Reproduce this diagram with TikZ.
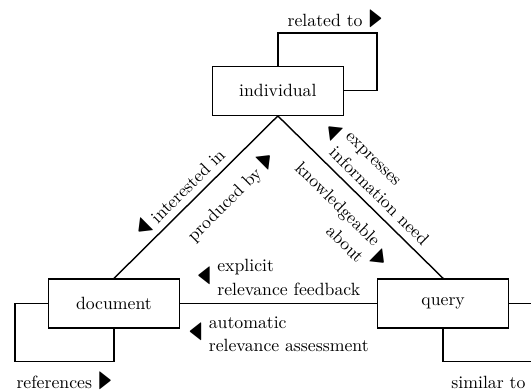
\documentclass[tikz,border=0pt]{standalone}
\usepackage[]{amssymb}
\usetikzlibrary{positioning}
\newcommand{\lefttri}{\scalebox{1.05}[1.75]{$\blacktriangleleft$}}
\newcommand{\righttri}{\scalebox{1.05}[1.75]{$\blacktriangleright$}}
\renewcommand{\arraystretch}{1.1}
\tikzset{entity/.style = {draw, thick, minimum width = 2.6cm, minimum height = 0.97cm}}
\tikzset{rel/.style = {thick}}
\begin{document}
\begin{tikzpicture}
        \useasboundingbox (-2.26,-1.72) rectangle (8.27,6.02);
        \clip (-2.26,-1.72) rectangle (8.27,6.02);
        \node [entity] (document) at (0,0) {document};
        \node [entity, right=3.9cm of document] (query) {query};
        \node [entity] (individual) at (3.25,4.22) {individual};
        \coordinate [above=0.65cm of individual.north] (rel1);
        \coordinate [right=0.65cm of individual.east] (rel2);
        \coordinate [left=0.65cm of document.west] (ref1);
        \coordinate [below=0.65cm of document.south] (ref2);
        \coordinate [below=0.65cm of query.south] (sim1);
        \coordinate [right=0.65cm of query.east] (sim2);
        \draw [rel] (document.north) -- node [above=0pt, sloped, pos=0.465] {\lefttri\ interested in} node [below=4pt, sloped, pos=0.61] {produced by \righttri} (individual.south);
        \draw [rel] (individual.south) -- node [above=-3pt, sloped, pos=0.51] {\lefttri\ \begin{tabular}{@{}l@{}}expresses\\information need\end{tabular}} node [below=2pt, sloped, pos=0.495] {\begin{tabular}{@{}r@{}}knowledgeable\\about\end{tabular} \righttri} (query.north);
        \draw [rel] (document.east) -- node [above=-3pt] {\lefttri\ \begin{tabular}{@{}l@{}}explicit\\relevance feedback\end{tabular}} node [below=1pt] {\lefttri\ \begin{tabular}{@{}l@{}}automatic\\relevance assessment\end{tabular}} (query.west);
        \draw [rel] (individual.north) -- (rel1) -| node [above=-1pt, pos=0.29] {related to \righttri} (rel2) -- (individual.east);
        \draw [rel] (document.west) -- (ref1) |- node [below=2pt, pos=0.75] {references \righttri} (ref2) -- (document.south);
        \draw [rel] (query.south) -- (sim1) -| node [below=2pt, pos=0.28] {similar to \righttri} (sim2) -- (query.east);
    \end{tikzpicture}
\end{document}
